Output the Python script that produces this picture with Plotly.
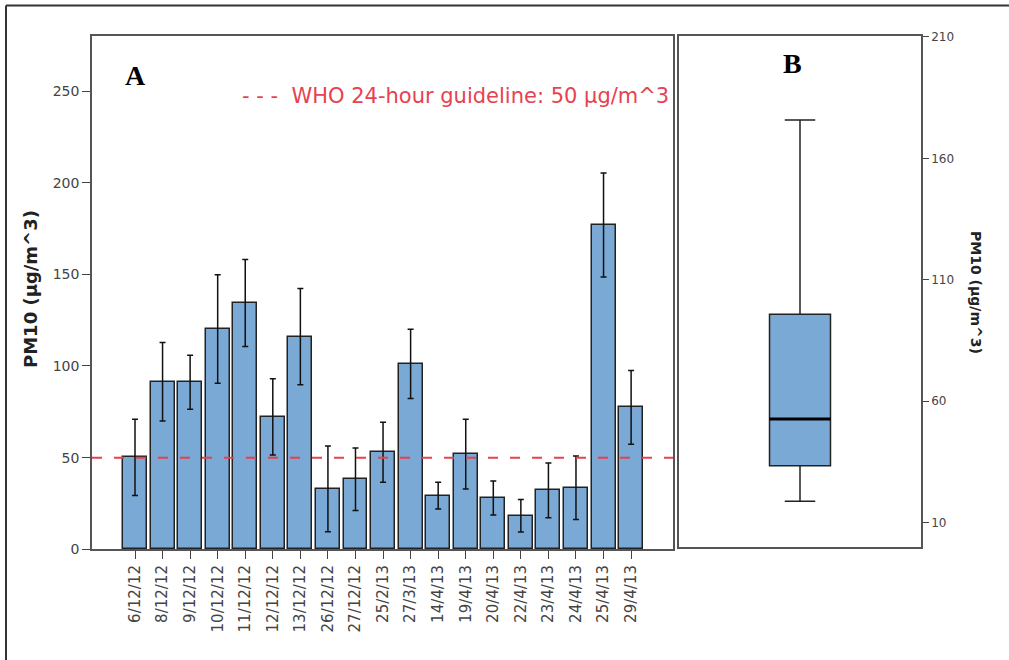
import plotly.graph_objects as go

# ---------------- data ----------------
dates = ["6/12/12", "8/12/12", "9/12/12", "10/12/12", "11/12/12", "12/12/12",
         "13/12/12", "26/12/12", "27/12/12", "25/2/13", "27/3/13", "14/4/13",
         "19/4/13", "20/4/13", "22/4/13", "23/4/13", "24/4/13", "25/4/13", "29/4/13"]
pm10_mean = [50.2, 91.2, 91.2, 120.1, 134.3, 72.4, 115.7, 32.9, 38.2, 52.9,
             101.0, 29.3, 52.2, 27.8, 18.2, 32.2, 33.6, 176.9, 77.5]
ci_upper = [71.0, 112.8, 105.9, 149.7, 158.1, 93.1, 142.2, 56.4, 55.3, 69.3,
            120.1, 36.6, 71.0, 37.3, 27.1, 47.1, 50.9, 205.2, 97.5]
ci_lower = [29.3, 70.0, 76.4, 90.6, 110.6, 51.5, 89.7, 9.6, 21.1, 36.6,
            82.2, 22.0, 32.9, 18.7, 9.4, 17.2, 16.2, 148.5, 57.3]
guideline = 50
left_ticks = [0, 50, 100, 150, 200, 250]

# panel B box summary
box_q1 = 33.5
box_median = 52.7
box_q3 = 95.8
box_low = 18.8
box_high = 175.8
right_ticks = [10, 60, 110, 160, 210]

# ---------------- styling ----------------
W, H = 1009, 660
BAR_COLOR = "#7AA9D5"
RED = "#E8414F"
TICK_COLOR = "#444444"
FONT = "DejaVu Sans"

def px_x(p):
    return p / W

def px_y(p):
    return 1 - p / H

err_plus = [u - m for u, m in zip(ci_upper, pm10_mean)]
err_minus = [m - l for m, l in zip(pm10_mean, ci_lower)]

fig = go.Figure()

fig.add_trace(go.Bar(
    x=dates, y=pm10_mean, width=0.87,
    marker=dict(color=BAR_COLOR, line=dict(color="#222222", width=1.5)),
    error_y=dict(type="data", symmetric=False, array=err_plus, arrayminus=err_minus,
                 color="#111111", thickness=1.5, width=3),
    xaxis="x", yaxis="y", showlegend=False,
))

BOX_W = 0.252
fig.add_trace(go.Box(
    x=[0], q1=[box_q1], median=[box_median], q3=[box_q3],
    lowerfence=[box_low], upperfence=[box_high],
    width=BOX_W, whiskerwidth=0.5,
    fillcolor=BAR_COLOR, line=dict(color="#222222", width=1.5),
    xaxis="x2", yaxis="y2", showlegend=False, boxpoints=False,
))
# thicker median line
fig.add_trace(go.Scatter(
    x=[-BOX_W / 2, BOX_W / 2], y=[box_median, box_median], mode="lines",
    line=dict(color="#000000", width=3), xaxis="x2", yaxis="y2",
    showlegend=False, hoverinfo="skip",
))

axis_common = dict(showline=True, mirror=True, linecolor="#555555", linewidth=1.5,
                   showgrid=False, zeroline=False, ticks="outside", tickcolor="#444444",
                   automargin=False)

fig.update_layout(
    width=W, height=H,
    margin=dict(l=0, r=0, t=0, b=0),
    paper_bgcolor="white", plot_bgcolor="white",
    font=dict(family=FONT, color=TICK_COLOR),
    xaxis=dict(axis_common, domain=[px_x(92), px_x(673)], type="category",
               range=[-1.56, 19.52], ticklen=8, tickangle=-90,
               tickfont=dict(family=FONT, size=15, color=TICK_COLOR), anchor="y"),
    yaxis=dict(axis_common, domain=[px_y(549.3), px_y(36)], range=[0, 280],
               tickvals=left_ticks, ticklen=8,
               tickfont=dict(family=FONT, size=14, color=TICK_COLOR), anchor="x"),
    xaxis2=dict(axis_common, domain=[px_x(679), px_x(921)], range=[-0.5, 0.5],
                showticklabels=False, ticks="", anchor="y2"),
    yaxis2=dict(axis_common, domain=[px_y(547), px_y(36)], range=[0, 210.4],
                side="right", tickvals=right_ticks, ticklen=6,
                tickfont=dict(family=FONT, size=12, color=TICK_COLOR), anchor="x2"),
    bargap=0,
)

shapes = [
    # guideline
    dict(type="line", xref="x domain", yref="y", x0=0, x1=1, y0=guideline, y1=guideline,
         line=dict(color=RED, width=2, dash="10px,12px"), layer="above"),
    # outer frame (top and left)
    dict(type="line", xref="paper", yref="paper", x0=px_x(6), x1=1, y0=px_y(5.5), y1=px_y(5.5),
         line=dict(color="#333333", width=2)),
    dict(type="line", xref="paper", yref="paper", x0=px_x(6), x1=px_x(6), y0=0, y1=px_y(5.5),
         line=dict(color="#333333", width=2)),
]
fig.update_layout(shapes=shapes)

annotations = [
    dict(text="<b>PM10 (µg/m^3)</b>", xref="paper", yref="paper", x=px_x(30), y=px_y(289),
         textangle=-90, showarrow=False, font=dict(family=FONT, size=18, color="#222222"),
         xanchor="center", yanchor="middle"),
    dict(text="<b>PM10 (µg/m^3)</b>", xref="paper", yref="paper", x=px_x(976), y=px_y(292),
         textangle=90, showarrow=False, font=dict(family=FONT, size=14, color="#222222"),
         xanchor="center", yanchor="middle"),
    dict(text="<b>A</b>", xref="paper", yref="paper", x=px_x(135), y=px_y(75),
         showarrow=False, font=dict(family="Liberation Serif", size=28, color="#000000"),
         xanchor="center", yanchor="middle"),
    dict(text="<b>B</b>", xref="paper", yref="paper", x=px_x(792), y=px_y(64),
         showarrow=False, font=dict(family="Liberation Serif", size=28, color="#000000"),
         xanchor="center", yanchor="middle"),
    dict(text="- - -  WHO 24-hour guideline: 50 µg/m^3", xref="paper", yref="paper",
         x=px_x(240), y=px_y(96), showarrow=False,
         font=dict(family=FONT, size=21, color=RED), xanchor="left", yanchor="middle"),
]
fig.update_layout(annotations=annotations)

fig.write_html("out.html")
